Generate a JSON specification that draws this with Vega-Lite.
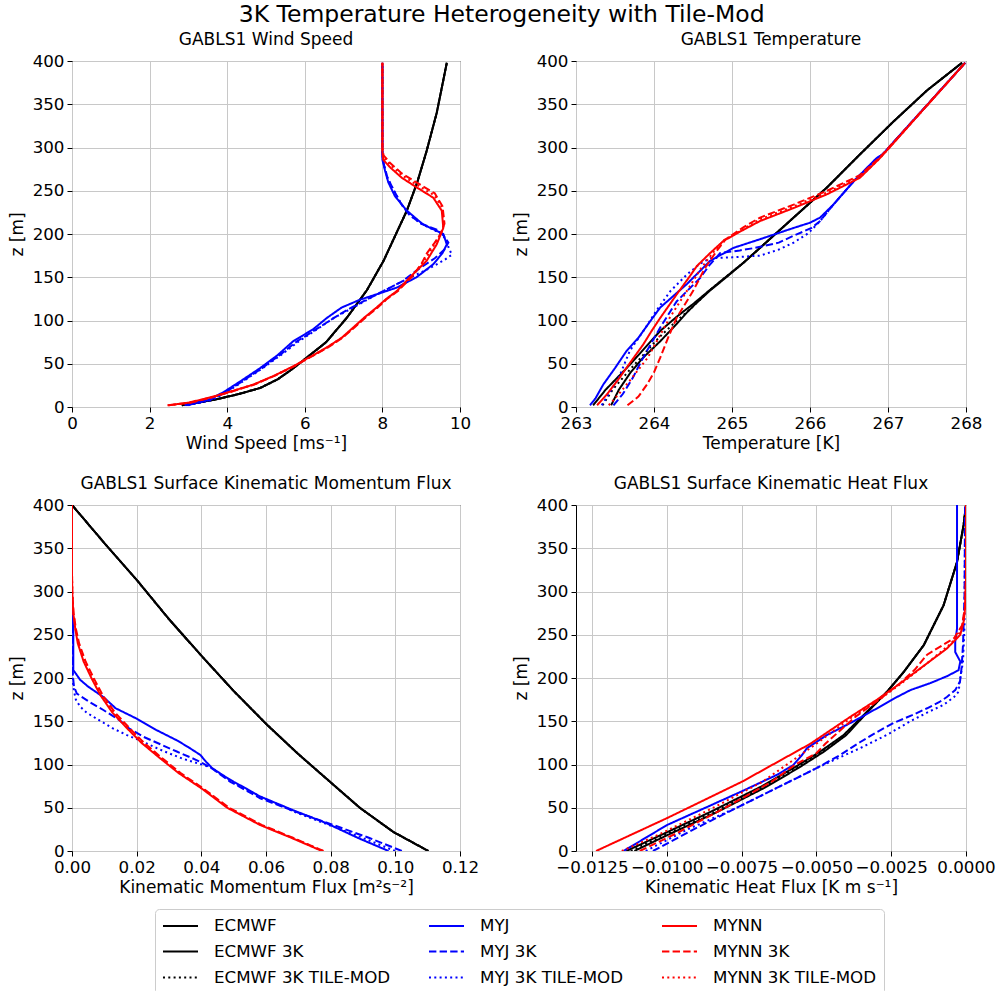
{
"$schema": "https://vega.github.io/schema/vega-lite/v6.json",
"background": "white",
"padding": {"left": 7, "top": 3, "right": 5, "bottom": 0},
"title": {"text": "3K Temperature Heterogeneity with Tile-Mod", "fontSize": 23.5, "fontWeight": "normal", "anchor": "middle", "offset": 4},
"columns": 2,
"bounds": "flush",
"align": "each",
"spacing": {"row": 98, "column": 116},
"datasets": {
"ws": [
{"s":"ECMWF","z":2,"v":2.83},{"s":"ECMWF","z":5,"v":3.25},{"s":"ECMWF","z":9,"v":3.73},{"s":"ECMWF","z":15,"v":4.3},{"s":"ECMWF","z":22,"v":4.85},{"s":"ECMWF","z":32,"v":5.3},{"s":"ECMWF","z":42,"v":5.62},{"s":"ECMWF","z":51,"v":5.88},{"s":"ECMWF","z":75,"v":6.55},{"s":"ECMWF","z":103,"v":7.08},{"s":"ECMWF","z":135,"v":7.6},{"s":"ECMWF","z":169,"v":8.03},{"s":"ECMWF","z":200,"v":8.35},{"s":"ECMWF","z":227,"v":8.63},{"s":"ECMWF","z":260,"v":8.9},{"s":"ECMWF","z":296,"v":9.14},{"s":"ECMWF","z":340,"v":9.4},{"s":"ECMWF","z":398,"v":9.66},
{"s":"ECMWF 3K","z":2,"v":2.83},{"s":"ECMWF 3K","z":5,"v":3.25},{"s":"ECMWF 3K","z":9,"v":3.73},{"s":"ECMWF 3K","z":15,"v":4.3},{"s":"ECMWF 3K","z":22,"v":4.85},{"s":"ECMWF 3K","z":32,"v":5.3},{"s":"ECMWF 3K","z":42,"v":5.62},{"s":"ECMWF 3K","z":51,"v":5.88},{"s":"ECMWF 3K","z":75,"v":6.55},{"s":"ECMWF 3K","z":103,"v":7.08},{"s":"ECMWF 3K","z":135,"v":7.6},{"s":"ECMWF 3K","z":169,"v":8.03},{"s":"ECMWF 3K","z":200,"v":8.35},{"s":"ECMWF 3K","z":227,"v":8.63},{"s":"ECMWF 3K","z":260,"v":8.9},{"s":"ECMWF 3K","z":296,"v":9.14},{"s":"ECMWF 3K","z":340,"v":9.4},{"s":"ECMWF 3K","z":398,"v":9.66},
{"s":"ECMWF 3K TILE-MOD","z":2,"v":2.83},{"s":"ECMWF 3K TILE-MOD","z":5,"v":3.25},{"s":"ECMWF 3K TILE-MOD","z":9,"v":3.73},{"s":"ECMWF 3K TILE-MOD","z":15,"v":4.3},{"s":"ECMWF 3K TILE-MOD","z":22,"v":4.85},{"s":"ECMWF 3K TILE-MOD","z":32,"v":5.3},{"s":"ECMWF 3K TILE-MOD","z":42,"v":5.62},{"s":"ECMWF 3K TILE-MOD","z":51,"v":5.88},{"s":"ECMWF 3K TILE-MOD","z":75,"v":6.55},{"s":"ECMWF 3K TILE-MOD","z":103,"v":7.08},{"s":"ECMWF 3K TILE-MOD","z":135,"v":7.6},{"s":"ECMWF 3K TILE-MOD","z":169,"v":8.03},{"s":"ECMWF 3K TILE-MOD","z":200,"v":8.35},{"s":"ECMWF 3K TILE-MOD","z":227,"v":8.63},{"s":"ECMWF 3K TILE-MOD","z":260,"v":8.9},{"s":"ECMWF 3K TILE-MOD","z":296,"v":9.14},{"s":"ECMWF 3K TILE-MOD","z":340,"v":9.4},{"s":"ECMWF 3K TILE-MOD","z":398,"v":9.66},
{"s":"MYJ","z":2,"v":2.9},{"s":"MYJ","z":8,"v":3.5},{"s":"MYJ","z":17,"v":3.9},{"s":"MYJ","z":30,"v":4.35},{"s":"MYJ","z":45,"v":4.85},{"s":"MYJ","z":60,"v":5.3},{"s":"MYJ","z":76,"v":5.7},{"s":"MYJ","z":90,"v":6.22},{"s":"MYJ","z":103,"v":6.57},{"s":"MYJ","z":115,"v":6.95},{"s":"MYJ","z":124,"v":7.42},{"s":"MYJ","z":131,"v":7.9},{"s":"MYJ","z":138,"v":8.37},{"s":"MYJ","z":150,"v":8.88},{"s":"MYJ","z":165,"v":9.31},{"s":"MYJ","z":178,"v":9.55},{"s":"MYJ","z":188,"v":9.66},{"s":"MYJ","z":200,"v":9.57},{"s":"MYJ","z":211,"v":9.05},{"s":"MYJ","z":227,"v":8.63},{"s":"MYJ","z":244,"v":8.32},{"s":"MYJ","z":260,"v":8.15},{"s":"MYJ","z":273,"v":8.07},{"s":"MYJ","z":286,"v":8.0},{"s":"MYJ","z":398,"v":8.0},
{"s":"MYJ 3K","z":2,"v":2.95},{"s":"MYJ 3K","z":8,"v":3.55},{"s":"MYJ 3K","z":17,"v":3.95},{"s":"MYJ 3K","z":30,"v":4.4},{"s":"MYJ 3K","z":45,"v":4.9},{"s":"MYJ 3K","z":60,"v":5.35},{"s":"MYJ 3K","z":76,"v":5.8},{"s":"MYJ 3K","z":90,"v":6.3},{"s":"MYJ 3K","z":103,"v":6.75},{"s":"MYJ 3K","z":115,"v":7.2},{"s":"MYJ 3K","z":130,"v":7.85},{"s":"MYJ 3K","z":145,"v":8.5},{"s":"MYJ 3K","z":160,"v":8.95},{"s":"MYJ 3K","z":172,"v":9.35},{"s":"MYJ 3K","z":182,"v":9.6},{"s":"MYJ 3K","z":190,"v":9.7},{"s":"MYJ 3K","z":198,"v":9.58},{"s":"MYJ 3K","z":205,"v":9.4},{"s":"MYJ 3K","z":212,"v":9.0},{"s":"MYJ 3K","z":222,"v":8.7},{"s":"MYJ 3K","z":235,"v":8.48},{"s":"MYJ 3K","z":250,"v":8.3},{"s":"MYJ 3K","z":265,"v":8.13},{"s":"MYJ 3K","z":280,"v":8.04},{"s":"MYJ 3K","z":292,"v":8.0},{"s":"MYJ 3K","z":398,"v":8.0},
{"s":"MYJ 3K TILE-MOD","z":2,"v":3.0},{"s":"MYJ 3K TILE-MOD","z":8,"v":3.6},{"s":"MYJ 3K TILE-MOD","z":17,"v":3.98},{"s":"MYJ 3K TILE-MOD","z":30,"v":4.42},{"s":"MYJ 3K TILE-MOD","z":45,"v":4.92},{"s":"MYJ 3K TILE-MOD","z":60,"v":5.38},{"s":"MYJ 3K TILE-MOD","z":76,"v":5.85},{"s":"MYJ 3K TILE-MOD","z":90,"v":6.32},{"s":"MYJ 3K TILE-MOD","z":103,"v":6.75},{"s":"MYJ 3K TILE-MOD","z":115,"v":7.25},{"s":"MYJ 3K TILE-MOD","z":130,"v":7.85},{"s":"MYJ 3K TILE-MOD","z":145,"v":8.5},{"s":"MYJ 3K TILE-MOD","z":160,"v":9.2},{"s":"MYJ 3K TILE-MOD","z":170,"v":9.6},{"s":"MYJ 3K TILE-MOD","z":176,"v":9.79},{"s":"MYJ 3K TILE-MOD","z":185,"v":9.7},{"s":"MYJ 3K TILE-MOD","z":195,"v":9.62},{"s":"MYJ 3K TILE-MOD","z":203,"v":9.4},{"s":"MYJ 3K TILE-MOD","z":212,"v":9.0},{"s":"MYJ 3K TILE-MOD","z":222,"v":8.7},{"s":"MYJ 3K TILE-MOD","z":235,"v":8.48},{"s":"MYJ 3K TILE-MOD","z":250,"v":8.3},{"s":"MYJ 3K TILE-MOD","z":265,"v":8.13},{"s":"MYJ 3K TILE-MOD","z":280,"v":8.04},{"s":"MYJ 3K TILE-MOD","z":292,"v":8.0},{"s":"MYJ 3K TILE-MOD","z":398,"v":8.0},
{"s":"MYNN","z":2,"v":2.46},{"s":"MYNN","z":5,"v":3.0},{"s":"MYNN","z":11,"v":3.56},{"s":"MYNN","z":18,"v":4.1},{"s":"MYNN","z":26,"v":4.68},{"s":"MYNN","z":36,"v":5.2},{"s":"MYNN","z":47,"v":5.7},{"s":"MYNN","z":57,"v":6.1},{"s":"MYNN","z":69,"v":6.57},{"s":"MYNN","z":80,"v":6.95},{"s":"MYNN","z":92,"v":7.25},{"s":"MYNN","z":104,"v":7.55},{"s":"MYNN","z":115,"v":7.85},{"s":"MYNN","z":125,"v":8.1},{"s":"MYNN","z":134,"v":8.37},{"s":"MYNN","z":150,"v":8.71},{"s":"MYNN","z":169,"v":9.14},{"s":"MYNN","z":188,"v":9.4},{"s":"MYNN","z":207,"v":9.57},{"s":"MYNN","z":227,"v":9.53},{"s":"MYNN","z":242,"v":9.31},{"s":"MYNN","z":254,"v":8.88},{"s":"MYNN","z":265,"v":8.5},{"s":"MYNN","z":277,"v":8.2},{"s":"MYNN","z":286,"v":8.02},{"s":"MYNN","z":295,"v":8.0},{"s":"MYNN","z":398,"v":8.0},
{"s":"MYNN 3K","z":2,"v":2.5},{"s":"MYNN 3K","z":5,"v":3.05},{"s":"MYNN 3K","z":11,"v":3.6},{"s":"MYNN 3K","z":18,"v":4.12},{"s":"MYNN 3K","z":26,"v":4.7},{"s":"MYNN 3K","z":36,"v":5.22},{"s":"MYNN 3K","z":47,"v":5.72},{"s":"MYNN 3K","z":57,"v":6.12},{"s":"MYNN 3K","z":69,"v":6.6},{"s":"MYNN 3K","z":80,"v":6.97},{"s":"MYNN 3K","z":92,"v":7.28},{"s":"MYNN 3K","z":104,"v":7.58},{"s":"MYNN 3K","z":115,"v":7.88},{"s":"MYNN 3K","z":125,"v":8.12},{"s":"MYNN 3K","z":134,"v":8.4},{"s":"MYNN 3K","z":150,"v":8.75},{"s":"MYNN 3K","z":165,"v":9.0},{"s":"MYNN 3K","z":178,"v":9.15},{"s":"MYNN 3K","z":190,"v":9.35},{"s":"MYNN 3K","z":200,"v":9.5},{"s":"MYNN 3K","z":212,"v":9.6},{"s":"MYNN 3K","z":232,"v":9.55},{"s":"MYNN 3K","z":247,"v":9.35},{"s":"MYNN 3K","z":259,"v":8.9},{"s":"MYNN 3K","z":270,"v":8.5},{"s":"MYNN 3K","z":282,"v":8.2},{"s":"MYNN 3K","z":291,"v":8.03},{"s":"MYNN 3K","z":300,"v":8.0},{"s":"MYNN 3K","z":398,"v":8.0},
{"s":"MYNN 3K TILE-MOD","z":2,"v":2.48},{"s":"MYNN 3K TILE-MOD","z":5,"v":3.03},{"s":"MYNN 3K TILE-MOD","z":11,"v":3.58},{"s":"MYNN 3K TILE-MOD","z":18,"v":4.11},{"s":"MYNN 3K TILE-MOD","z":26,"v":4.69},{"s":"MYNN 3K TILE-MOD","z":36,"v":5.21},{"s":"MYNN 3K TILE-MOD","z":47,"v":5.71},{"s":"MYNN 3K TILE-MOD","z":57,"v":6.11},{"s":"MYNN 3K TILE-MOD","z":69,"v":6.58},{"s":"MYNN 3K TILE-MOD","z":80,"v":6.96},{"s":"MYNN 3K TILE-MOD","z":92,"v":7.27},{"s":"MYNN 3K TILE-MOD","z":104,"v":7.57},{"s":"MYNN 3K TILE-MOD","z":115,"v":7.87},{"s":"MYNN 3K TILE-MOD","z":125,"v":8.11},{"s":"MYNN 3K TILE-MOD","z":134,"v":8.38},{"s":"MYNN 3K TILE-MOD","z":150,"v":8.73},{"s":"MYNN 3K TILE-MOD","z":167,"v":9.05},{"s":"MYNN 3K TILE-MOD","z":185,"v":9.3},{"s":"MYNN 3K TILE-MOD","z":200,"v":9.5},{"s":"MYNN 3K TILE-MOD","z":210,"v":9.58},{"s":"MYNN 3K TILE-MOD","z":230,"v":9.55},{"s":"MYNN 3K TILE-MOD","z":245,"v":9.33},{"s":"MYNN 3K TILE-MOD","z":257,"v":8.88},{"s":"MYNN 3K TILE-MOD","z":268,"v":8.5},{"s":"MYNN 3K TILE-MOD","z":280,"v":8.2},{"s":"MYNN 3K TILE-MOD","z":289,"v":8.02},{"s":"MYNN 3K TILE-MOD","z":298,"v":8.0},{"s":"MYNN 3K TILE-MOD","z":398,"v":8.0}
],
"t": [
{"s":"ECMWF","z":2,"v":263.22},{"s":"ECMWF","z":20,"v":263.38},{"s":"ECMWF","z":45,"v":263.65},{"s":"ECMWF","z":65,"v":263.85},{"s":"ECMWF","z":88,"v":264.08},{"s":"ECMWF","z":105,"v":264.3},{"s":"ECMWF","z":119,"v":264.5},{"s":"ECMWF","z":134,"v":264.7},{"s":"ECMWF","z":151,"v":264.93},{"s":"ECMWF","z":167,"v":265.15},{"s":"ECMWF","z":184,"v":265.36},{"s":"ECMWF","z":219,"v":265.79},{"s":"ECMWF","z":254,"v":266.22},{"s":"ECMWF","z":292,"v":266.64},{"s":"ECMWF","z":330,"v":267.07},{"s":"ECMWF","z":366,"v":267.5},{"s":"ECMWF","z":398,"v":267.95},
{"s":"ECMWF 3K","z":2,"v":263.45},{"s":"ECMWF 3K","z":20,"v":263.55},{"s":"ECMWF 3K","z":40,"v":263.7},{"s":"ECMWF 3K","z":57,"v":263.86},{"s":"ECMWF 3K","z":76,"v":264.08},{"s":"ECMWF 3K","z":96,"v":264.29},{"s":"ECMWF 3K","z":110,"v":264.43},{"s":"ECMWF 3K","z":119,"v":264.53},{"s":"ECMWF 3K","z":134,"v":264.71},{"s":"ECMWF 3K","z":151,"v":264.94},{"s":"ECMWF 3K","z":167,"v":265.15},{"s":"ECMWF 3K","z":184,"v":265.36},{"s":"ECMWF 3K","z":219,"v":265.79},{"s":"ECMWF 3K","z":254,"v":266.22},{"s":"ECMWF 3K","z":292,"v":266.64},{"s":"ECMWF 3K","z":330,"v":267.07},{"s":"ECMWF 3K","z":366,"v":267.5},{"s":"ECMWF 3K","z":398,"v":267.95},
{"s":"ECMWF 3K TILE-MOD","z":2,"v":263.34},{"s":"ECMWF 3K TILE-MOD","z":20,"v":263.47},{"s":"ECMWF 3K TILE-MOD","z":42,"v":263.68},{"s":"ECMWF 3K TILE-MOD","z":60,"v":263.86},{"s":"ECMWF 3K TILE-MOD","z":80,"v":264.06},{"s":"ECMWF 3K TILE-MOD","z":98,"v":264.27},{"s":"ECMWF 3K TILE-MOD","z":112,"v":264.45},{"s":"ECMWF 3K TILE-MOD","z":125,"v":264.6},{"s":"ECMWF 3K TILE-MOD","z":134,"v":264.7},{"s":"ECMWF 3K TILE-MOD","z":151,"v":264.93},{"s":"ECMWF 3K TILE-MOD","z":167,"v":265.15},{"s":"ECMWF 3K TILE-MOD","z":184,"v":265.36},{"s":"ECMWF 3K TILE-MOD","z":219,"v":265.79},{"s":"ECMWF 3K TILE-MOD","z":254,"v":266.22},{"s":"ECMWF 3K TILE-MOD","z":292,"v":266.64},{"s":"ECMWF 3K TILE-MOD","z":330,"v":267.07},{"s":"ECMWF 3K TILE-MOD","z":366,"v":267.5},{"s":"ECMWF 3K TILE-MOD","z":398,"v":267.95},
{"s":"MYJ","z":2,"v":263.18},{"s":"MYJ","z":10,"v":263.25},{"s":"MYJ","z":26,"v":263.35},{"s":"MYJ","z":45,"v":263.5},{"s":"MYJ","z":65,"v":263.65},{"s":"MYJ","z":80,"v":263.8},{"s":"MYJ","z":99,"v":263.95},{"s":"MYJ","z":115,"v":264.08},{"s":"MYJ","z":142,"v":264.42},{"s":"MYJ","z":169,"v":264.72},{"s":"MYJ","z":184,"v":265.02},{"s":"MYJ","z":194,"v":265.36},{"s":"MYJ","z":207,"v":265.79},{"s":"MYJ","z":213,"v":266.0},{"s":"MYJ","z":219,"v":266.13},{"s":"MYJ","z":234,"v":266.3},{"s":"MYJ","z":261,"v":266.56},{"s":"MYJ","z":288,"v":266.86},{"s":"MYJ","z":292,"v":266.93},{"s":"MYJ","z":398,"v":267.99},
{"s":"MYJ 3K","z":2,"v":263.48},{"s":"MYJ 3K","z":15,"v":263.6},{"s":"MYJ 3K","z":34,"v":263.73},{"s":"MYJ 3K","z":50,"v":263.82},{"s":"MYJ 3K","z":65,"v":263.91},{"s":"MYJ 3K","z":92,"v":264.08},{"s":"MYJ 3K","z":122,"v":264.29},{"s":"MYJ 3K","z":149,"v":264.59},{"s":"MYJ 3K","z":165,"v":264.72},{"s":"MYJ 3K","z":178,"v":264.85},{"s":"MYJ 3K","z":181,"v":265.1},{"s":"MYJ 3K","z":184,"v":265.3},{"s":"MYJ 3K","z":190,"v":265.6},{"s":"MYJ 3K","z":198,"v":265.79},{"s":"MYJ 3K","z":207,"v":266.02},{"s":"MYJ 3K","z":215,"v":266.13},{"s":"MYJ 3K","z":234,"v":266.3},{"s":"MYJ 3K","z":261,"v":266.56},{"s":"MYJ 3K","z":288,"v":266.86},{"s":"MYJ 3K","z":292,"v":266.93},{"s":"MYJ 3K","z":398,"v":267.99},
{"s":"MYJ 3K TILE-MOD","z":2,"v":263.33},{"s":"MYJ 3K TILE-MOD","z":15,"v":263.42},{"s":"MYJ 3K TILE-MOD","z":34,"v":263.55},{"s":"MYJ 3K TILE-MOD","z":65,"v":263.69},{"s":"MYJ 3K TILE-MOD","z":90,"v":263.88},{"s":"MYJ 3K TILE-MOD","z":110,"v":264.02},{"s":"MYJ 3K TILE-MOD","z":134,"v":264.21},{"s":"MYJ 3K TILE-MOD","z":153,"v":264.42},{"s":"MYJ 3K TILE-MOD","z":165,"v":264.58},{"s":"MYJ 3K TILE-MOD","z":172,"v":264.72},{"s":"MYJ 3K TILE-MOD","z":173,"v":265.0},{"s":"MYJ 3K TILE-MOD","z":175,"v":265.36},{"s":"MYJ 3K TILE-MOD","z":182,"v":265.6},{"s":"MYJ 3K TILE-MOD","z":190,"v":265.79},{"s":"MYJ 3K TILE-MOD","z":201,"v":265.98},{"s":"MYJ 3K TILE-MOD","z":215,"v":266.13},{"s":"MYJ 3K TILE-MOD","z":234,"v":266.3},{"s":"MYJ 3K TILE-MOD","z":261,"v":266.56},{"s":"MYJ 3K TILE-MOD","z":288,"v":266.86},{"s":"MYJ 3K TILE-MOD","z":292,"v":266.93},{"s":"MYJ 3K TILE-MOD","z":398,"v":267.99},
{"s":"MYNN","z":2,"v":263.27},{"s":"MYNN","z":15,"v":263.4},{"s":"MYNN","z":34,"v":263.56},{"s":"MYNN","z":52,"v":263.7},{"s":"MYNN","z":72,"v":263.86},{"s":"MYNN","z":88,"v":263.97},{"s":"MYNN","z":103,"v":264.08},{"s":"MYNN","z":130,"v":264.29},{"s":"MYNN","z":150,"v":264.45},{"s":"MYNN","z":163,"v":264.55},{"s":"MYNN","z":178,"v":264.72},{"s":"MYNN","z":192,"v":264.89},{"s":"MYNN","z":205,"v":265.15},{"s":"MYNN","z":215,"v":265.36},{"s":"MYNN","z":230,"v":265.79},{"s":"MYNN","z":246,"v":266.22},{"s":"MYNN","z":265,"v":266.64},{"s":"MYNN","z":288,"v":266.9},{"s":"MYNN","z":398,"v":267.99},
{"s":"MYNN 3K","z":2,"v":263.66},{"s":"MYNN 3K","z":12,"v":263.8},{"s":"MYNN 3K","z":26,"v":263.91},{"s":"MYNN 3K","z":40,"v":264.0},{"s":"MYNN 3K","z":57,"v":264.08},{"s":"MYNN 3K","z":80,"v":264.18},{"s":"MYNN 3K","z":103,"v":264.29},{"s":"MYNN 3K","z":134,"v":264.5},{"s":"MYNN 3K","z":160,"v":264.65},{"s":"MYNN 3K","z":180,"v":264.8},{"s":"MYNN 3K","z":194,"v":264.92},{"s":"MYNN 3K","z":208,"v":265.15},{"s":"MYNN 3K","z":219,"v":265.36},{"s":"MYNN 3K","z":234,"v":265.79},{"s":"MYNN 3K","z":250,"v":266.22},{"s":"MYNN 3K","z":268,"v":266.64},{"s":"MYNN 3K","z":289,"v":266.9},{"s":"MYNN 3K","z":398,"v":267.99},
{"s":"MYNN 3K TILE-MOD","z":2,"v":263.42},{"s":"MYNN 3K TILE-MOD","z":15,"v":263.55},{"s":"MYNN 3K TILE-MOD","z":34,"v":263.72},{"s":"MYNN 3K TILE-MOD","z":57,"v":263.92},{"s":"MYNN 3K TILE-MOD","z":80,"v":264.06},{"s":"MYNN 3K TILE-MOD","z":103,"v":264.2},{"s":"MYNN 3K TILE-MOD","z":134,"v":264.42},{"s":"MYNN 3K TILE-MOD","z":160,"v":264.6},{"s":"MYNN 3K TILE-MOD","z":180,"v":264.77},{"s":"MYNN 3K TILE-MOD","z":193,"v":264.9},{"s":"MYNN 3K TILE-MOD","z":206,"v":265.15},{"s":"MYNN 3K TILE-MOD","z":217,"v":265.36},{"s":"MYNN 3K TILE-MOD","z":232,"v":265.79},{"s":"MYNN 3K TILE-MOD","z":248,"v":266.22},{"s":"MYNN 3K TILE-MOD","z":266,"v":266.64},{"s":"MYNN 3K TILE-MOD","z":288,"v":266.9},{"s":"MYNN 3K TILE-MOD","z":398,"v":267.99}
],
"m": [
{"s":"ECMWF","z":0,"v":0.1102},{"s":"ECMWF","z":22,"v":0.0994},{"s":"ECMWF","z":50,"v":0.089},{"s":"ECMWF","z":80,"v":0.0798},{"s":"ECMWF","z":112,"v":0.07},{"s":"ECMWF","z":146,"v":0.0603},{"s":"ECMWF","z":185,"v":0.05},{"s":"ECMWF","z":225,"v":0.0402},{"s":"ECMWF","z":268,"v":0.03},{"s":"ECMWF","z":313,"v":0.0201},{"s":"ECMWF","z":356,"v":0.01},{"s":"ECMWF","z":400,"v":0.0},
{"s":"ECMWF 3K","z":0,"v":0.1102},{"s":"ECMWF 3K","z":22,"v":0.0994},{"s":"ECMWF 3K","z":50,"v":0.089},{"s":"ECMWF 3K","z":80,"v":0.0798},{"s":"ECMWF 3K","z":112,"v":0.07},{"s":"ECMWF 3K","z":146,"v":0.0603},{"s":"ECMWF 3K","z":185,"v":0.05},{"s":"ECMWF 3K","z":225,"v":0.0402},{"s":"ECMWF 3K","z":268,"v":0.03},{"s":"ECMWF 3K","z":313,"v":0.0201},{"s":"ECMWF 3K","z":356,"v":0.01},{"s":"ECMWF 3K","z":400,"v":0.0},
{"s":"ECMWF 3K TILE-MOD","z":0,"v":0.1102},{"s":"ECMWF 3K TILE-MOD","z":22,"v":0.0994},{"s":"ECMWF 3K TILE-MOD","z":50,"v":0.089},{"s":"ECMWF 3K TILE-MOD","z":80,"v":0.0798},{"s":"ECMWF 3K TILE-MOD","z":112,"v":0.07},{"s":"ECMWF 3K TILE-MOD","z":146,"v":0.0603},{"s":"ECMWF 3K TILE-MOD","z":185,"v":0.05},{"s":"ECMWF 3K TILE-MOD","z":225,"v":0.0402},{"s":"ECMWF 3K TILE-MOD","z":268,"v":0.03},{"s":"ECMWF 3K TILE-MOD","z":313,"v":0.0201},{"s":"ECMWF 3K TILE-MOD","z":356,"v":0.01},{"s":"ECMWF 3K TILE-MOD","z":400,"v":0.0},
{"s":"MYJ","z":0,"v":0.0979},{"s":"MYJ","z":15,"v":0.0885},{"s":"MYJ","z":32,"v":0.0788},{"s":"MYJ","z":47,"v":0.0685},{"s":"MYJ","z":63,"v":0.0582},{"s":"MYJ","z":72,"v":0.054},{"s":"MYJ","z":80,"v":0.05},{"s":"MYJ","z":88,"v":0.0465},{"s":"MYJ","z":96,"v":0.0433},{"s":"MYJ","z":103,"v":0.0415},{"s":"MYJ","z":111,"v":0.0397},{"s":"MYJ","z":120,"v":0.036},{"s":"MYJ","z":128,"v":0.0324},{"s":"MYJ","z":140,"v":0.026},{"s":"MYJ","z":153,"v":0.02},{"s":"MYJ","z":165,"v":0.0135},{"s":"MYJ","z":178,"v":0.0097},{"s":"MYJ","z":190,"v":0.005},{"s":"MYJ","z":198,"v":0.0025},{"s":"MYJ","z":205,"v":0.0012},{"s":"MYJ","z":209,"v":0.0004},{"s":"MYJ","z":255,"v":0.0004},{"s":"MYJ","z":270,"v":0.0002},{"s":"MYJ","z":300,"v":0.0},{"s":"MYJ","z":400,"v":0.0},
{"s":"MYJ 3K","z":0,"v":0.102},{"s":"MYJ 3K","z":15,"v":0.092},{"s":"MYJ 3K","z":30,"v":0.0809},{"s":"MYJ 3K","z":45,"v":0.0695},{"s":"MYJ 3K","z":61,"v":0.0582},{"s":"MYJ 3K","z":80,"v":0.049},{"s":"MYJ 3K","z":97,"v":0.0427},{"s":"MYJ 3K","z":106,"v":0.038},{"s":"MYJ 3K","z":115,"v":0.0324},{"s":"MYJ 3K","z":132,"v":0.0221},{"s":"MYJ 3K","z":142,"v":0.0175},{"s":"MYJ 3K","z":151,"v":0.0148},{"s":"MYJ 3K","z":163,"v":0.0097},{"s":"MYJ 3K","z":172,"v":0.0055},{"s":"MYJ 3K","z":182,"v":0.0015},{"s":"MYJ 3K","z":190,"v":0.0006},{"s":"MYJ 3K","z":198,"v":0.0004},{"s":"MYJ 3K","z":205,"v":0.0002},{"s":"MYJ 3K","z":240,"v":0.0001},{"s":"MYJ 3K","z":280,"v":0.0},{"s":"MYJ 3K","z":400,"v":0.0},
{"s":"MYJ 3K TILE-MOD","z":0,"v":0.0999},{"s":"MYJ 3K TILE-MOD","z":15,"v":0.09},{"s":"MYJ 3K TILE-MOD","z":30,"v":0.0795},{"s":"MYJ 3K TILE-MOD","z":45,"v":0.069},{"s":"MYJ 3K TILE-MOD","z":63,"v":0.0582},{"s":"MYJ 3K TILE-MOD","z":80,"v":0.0495},{"s":"MYJ 3K TILE-MOD","z":97,"v":0.0427},{"s":"MYJ 3K TILE-MOD","z":107,"v":0.034},{"s":"MYJ 3K TILE-MOD","z":116,"v":0.028},{"s":"MYJ 3K TILE-MOD","z":126,"v":0.0221},{"s":"MYJ 3K TILE-MOD","z":134,"v":0.017},{"s":"MYJ 3K TILE-MOD","z":142,"v":0.0125},{"s":"MYJ 3K TILE-MOD","z":151,"v":0.0085},{"s":"MYJ 3K TILE-MOD","z":160,"v":0.0045},{"s":"MYJ 3K TILE-MOD","z":167,"v":0.0025},{"s":"MYJ 3K TILE-MOD","z":175,"v":0.0012},{"s":"MYJ 3K TILE-MOD","z":185,"v":0.0006},{"s":"MYJ 3K TILE-MOD","z":195,"v":0.0003},{"s":"MYJ 3K TILE-MOD","z":230,"v":0.0001},{"s":"MYJ 3K TILE-MOD","z":280,"v":0.0},{"s":"MYJ 3K TILE-MOD","z":400,"v":0.0},
{"s":"MYNN","z":0,"v":0.0773},{"s":"MYNN","z":15,"v":0.068},{"s":"MYNN","z":30,"v":0.0582},{"s":"MYNN","z":50,"v":0.048},{"s":"MYNN","z":72,"v":0.0402},{"s":"MYNN","z":90,"v":0.033},{"s":"MYNN","z":107,"v":0.0273},{"s":"MYNN","z":125,"v":0.0215},{"s":"MYNN","z":142,"v":0.017},{"s":"MYNN","z":160,"v":0.0125},{"s":"MYNN","z":180,"v":0.0088},{"s":"MYNN","z":200,"v":0.006},{"s":"MYNN","z":219,"v":0.0036},{"s":"MYNN","z":240,"v":0.0018},{"s":"MYNN","z":257,"v":0.001},{"s":"MYNN","z":275,"v":0.0004},{"s":"MYNN","z":296,"v":0.0001},{"s":"MYNN","z":320,"v":0.0},{"s":"MYNN","z":400,"v":0.0},
{"s":"MYNN 3K","z":0,"v":0.0778},{"s":"MYNN 3K","z":15,"v":0.0685},{"s":"MYNN 3K","z":30,"v":0.0588},{"s":"MYNN 3K","z":50,"v":0.0486},{"s":"MYNN 3K","z":72,"v":0.0407},{"s":"MYNN 3K","z":90,"v":0.0336},{"s":"MYNN 3K","z":107,"v":0.028},{"s":"MYNN 3K","z":125,"v":0.0223},{"s":"MYNN 3K","z":142,"v":0.0178},{"s":"MYNN 3K","z":160,"v":0.0133},{"s":"MYNN 3K","z":180,"v":0.0095},{"s":"MYNN 3K","z":200,"v":0.0067},{"s":"MYNN 3K","z":219,"v":0.0042},{"s":"MYNN 3K","z":240,"v":0.0022},{"s":"MYNN 3K","z":257,"v":0.0012},{"s":"MYNN 3K","z":275,"v":0.0005},{"s":"MYNN 3K","z":296,"v":0.0001},{"s":"MYNN 3K","z":320,"v":0.0},{"s":"MYNN 3K","z":400,"v":0.0},
{"s":"MYNN 3K TILE-MOD","z":0,"v":0.0776},{"s":"MYNN 3K TILE-MOD","z":15,"v":0.0683},{"s":"MYNN 3K TILE-MOD","z":30,"v":0.0585},{"s":"MYNN 3K TILE-MOD","z":50,"v":0.0483},{"s":"MYNN 3K TILE-MOD","z":72,"v":0.0405},{"s":"MYNN 3K TILE-MOD","z":90,"v":0.0333},{"s":"MYNN 3K TILE-MOD","z":107,"v":0.0277},{"s":"MYNN 3K TILE-MOD","z":125,"v":0.0219},{"s":"MYNN 3K TILE-MOD","z":142,"v":0.0174},{"s":"MYNN 3K TILE-MOD","z":160,"v":0.0129},{"s":"MYNN 3K TILE-MOD","z":180,"v":0.0092},{"s":"MYNN 3K TILE-MOD","z":200,"v":0.0064},{"s":"MYNN 3K TILE-MOD","z":219,"v":0.0039},{"s":"MYNN 3K TILE-MOD","z":240,"v":0.002},{"s":"MYNN 3K TILE-MOD","z":257,"v":0.0011},{"s":"MYNN 3K TILE-MOD","z":275,"v":0.0004},{"s":"MYNN 3K TILE-MOD","z":296,"v":0.0001},{"s":"MYNN 3K TILE-MOD","z":320,"v":0.0},{"s":"MYNN 3K TILE-MOD","z":400,"v":0.0}
],
"h": [
{"s":"ECMWF","z":0,"v":-0.01135},{"s":"ECMWF","z":18,"v":-0.01022},{"s":"ECMWF","z":45,"v":-0.00855},{"s":"ECMWF","z":74,"v":-0.00687},{"s":"ECMWF","z":96,"v":-0.00576},{"s":"ECMWF","z":115,"v":-0.00487},{"s":"ECMWF","z":134,"v":-0.00409},{"s":"ECMWF","z":161,"v":-0.00331},{"s":"ECMWF","z":184,"v":-0.00264},{"s":"ECMWF","z":207,"v":-0.00208},{"s":"ECMWF","z":238,"v":-0.00141},{"s":"ECMWF","z":284,"v":-0.00075},{"s":"ECMWF","z":334,"v":-0.0003},{"s":"ECMWF","z":377,"v":-0.00008},{"s":"ECMWF","z":400,"v":0.0},
{"s":"ECMWF 3K","z":0,"v":-0.01108},{"s":"ECMWF 3K","z":18,"v":-0.01},{"s":"ECMWF 3K","z":45,"v":-0.00832},{"s":"ECMWF 3K","z":74,"v":-0.00668},{"s":"ECMWF 3K","z":96,"v":-0.0056},{"s":"ECMWF 3K","z":115,"v":-0.00474},{"s":"ECMWF 3K","z":134,"v":-0.004},{"s":"ECMWF 3K","z":161,"v":-0.00328},{"s":"ECMWF 3K","z":184,"v":-0.00264},{"s":"ECMWF 3K","z":207,"v":-0.00208},{"s":"ECMWF 3K","z":238,"v":-0.00141},{"s":"ECMWF 3K","z":284,"v":-0.00075},{"s":"ECMWF 3K","z":334,"v":-0.0003},{"s":"ECMWF 3K","z":377,"v":-0.00008},{"s":"ECMWF 3K","z":400,"v":0.0},
{"s":"ECMWF 3K TILE-MOD","z":0,"v":-0.0112},{"s":"ECMWF 3K TILE-MOD","z":18,"v":-0.0101},{"s":"ECMWF 3K TILE-MOD","z":45,"v":-0.00843},{"s":"ECMWF 3K TILE-MOD","z":74,"v":-0.00677},{"s":"ECMWF 3K TILE-MOD","z":96,"v":-0.00568},{"s":"ECMWF 3K TILE-MOD","z":115,"v":-0.0048},{"s":"ECMWF 3K TILE-MOD","z":134,"v":-0.00405},{"s":"ECMWF 3K TILE-MOD","z":161,"v":-0.0033},{"s":"ECMWF 3K TILE-MOD","z":184,"v":-0.00264},{"s":"ECMWF 3K TILE-MOD","z":207,"v":-0.00208},{"s":"ECMWF 3K TILE-MOD","z":238,"v":-0.00141},{"s":"ECMWF 3K TILE-MOD","z":284,"v":-0.00075},{"s":"ECMWF 3K TILE-MOD","z":334,"v":-0.0003},{"s":"ECMWF 3K TILE-MOD","z":377,"v":-0.00008},{"s":"ECMWF 3K TILE-MOD","z":400,"v":0.0},
{"s":"MYJ","z":0,"v":-0.01144},{"s":"MYJ","z":30,"v":-0.00999},{"s":"MYJ","z":69,"v":-0.00749},{"s":"MYJ","z":88,"v":-0.00632},{"s":"MYJ","z":99,"v":-0.00578},{"s":"MYJ","z":110,"v":-0.0055},{"s":"MYJ","z":119,"v":-0.00531},{"s":"MYJ","z":134,"v":-0.00465},{"s":"MYJ","z":150,"v":-0.00375},{"s":"MYJ","z":165,"v":-0.00297},{"s":"MYJ","z":176,"v":-0.00242},{"s":"MYJ","z":186,"v":-0.00186},{"s":"MYJ","z":194,"v":-0.0012},{"s":"MYJ","z":202,"v":-0.00064},{"s":"MYJ","z":209,"v":-0.00025},{"s":"MYJ","z":219,"v":-0.00019},{"s":"MYJ","z":230,"v":-0.00036},{"s":"MYJ","z":242,"v":-0.00036},{"s":"MYJ","z":257,"v":-0.0003},{"s":"MYJ","z":400,"v":-0.0003},
{"s":"MYJ 3K","z":0,"v":-0.01046},{"s":"MYJ 3K","z":25,"v":-0.0091},{"s":"MYJ 3K","z":51,"v":-0.0076},{"s":"MYJ 3K","z":75,"v":-0.0062},{"s":"MYJ 3K","z":96,"v":-0.00498},{"s":"MYJ 3K","z":111,"v":-0.0042},{"s":"MYJ 3K","z":126,"v":-0.00353},{"s":"MYJ 3K","z":137,"v":-0.003},{"s":"MYJ 3K","z":148,"v":-0.00242},{"s":"MYJ 3K","z":157,"v":-0.0018},{"s":"MYJ 3K","z":165,"v":-0.0013},{"s":"MYJ 3K","z":172,"v":-0.0009},{"s":"MYJ 3K","z":178,"v":-0.00064},{"s":"MYJ 3K","z":186,"v":-0.00036},{"s":"MYJ 3K","z":196,"v":-0.0002},{"s":"MYJ 3K","z":211,"v":-0.00015},{"s":"MYJ 3K","z":238,"v":-0.0001},{"s":"MYJ 3K","z":296,"v":-0.00005},{"s":"MYJ 3K","z":400,"v":-0.00003},
{"s":"MYJ 3K TILE-MOD","z":0,"v":-0.0107},{"s":"MYJ 3K TILE-MOD","z":25,"v":-0.0093},{"s":"MYJ 3K TILE-MOD","z":51,"v":-0.0076},{"s":"MYJ 3K TILE-MOD","z":75,"v":-0.0062},{"s":"MYJ 3K TILE-MOD","z":96,"v":-0.00498},{"s":"MYJ 3K TILE-MOD","z":103,"v":-0.00455},{"s":"MYJ 3K TILE-MOD","z":119,"v":-0.00353},{"s":"MYJ 3K TILE-MOD","z":135,"v":-0.0026},{"s":"MYJ 3K TILE-MOD","z":150,"v":-0.00186},{"s":"MYJ 3K TILE-MOD","z":160,"v":-0.0013},{"s":"MYJ 3K TILE-MOD","z":169,"v":-0.00075},{"s":"MYJ 3K TILE-MOD","z":178,"v":-0.0004},{"s":"MYJ 3K TILE-MOD","z":184,"v":-0.00025},{"s":"MYJ 3K TILE-MOD","z":200,"v":-0.00019},{"s":"MYJ 3K TILE-MOD","z":219,"v":-0.0001},{"s":"MYJ 3K TILE-MOD","z":260,"v":-0.00005},{"s":"MYJ 3K TILE-MOD","z":400,"v":-0.00003},
{"s":"MYNN","z":0,"v":-0.01236},{"s":"MYNN","z":38,"v":-0.00999},{"s":"MYNN","z":80,"v":-0.00749},{"s":"MYNN","z":124,"v":-0.0052},{"s":"MYNN","z":155,"v":-0.00387},{"s":"MYNN","z":175,"v":-0.00297},{"s":"MYNN","z":194,"v":-0.00219},{"s":"MYNN","z":217,"v":-0.0013},{"s":"MYNN","z":234,"v":-0.00064},{"s":"MYNN","z":250,"v":-0.00019},{"s":"MYNN","z":265,"v":-0.00008},{"s":"MYNN","z":277,"v":-0.00004},{"s":"MYNN","z":315,"v":0.0},{"s":"MYNN","z":400,"v":0.0},
{"s":"MYNN 3K","z":0,"v":-0.0109},{"s":"MYNN 3K","z":20,"v":-0.0097},{"s":"MYNN 3K","z":49,"v":-0.0081},{"s":"MYNN 3K","z":80,"v":-0.0065},{"s":"MYNN 3K","z":100,"v":-0.0057},{"s":"MYNN 3K","z":113,"v":-0.005},{"s":"MYNN 3K","z":124,"v":-0.0047},{"s":"MYNN 3K","z":155,"v":-0.0037},{"s":"MYNN 3K","z":175,"v":-0.0029},{"s":"MYNN 3K","z":194,"v":-0.0022},{"s":"MYNN 3K","z":210,"v":-0.0017},{"s":"MYNN 3K","z":227,"v":-0.0013},{"s":"MYNN 3K","z":246,"v":-0.0004},{"s":"MYNN 3K","z":261,"v":-0.00013},{"s":"MYNN 3K","z":285,"v":-0.00002},{"s":"MYNN 3K","z":320,"v":0.0},{"s":"MYNN 3K","z":400,"v":0.0},
{"s":"MYNN 3K TILE-MOD","z":0,"v":-0.0115},{"s":"MYNN 3K TILE-MOD","z":20,"v":-0.0102},{"s":"MYNN 3K TILE-MOD","z":49,"v":-0.0085},{"s":"MYNN 3K TILE-MOD","z":80,"v":-0.0068},{"s":"MYNN 3K TILE-MOD","z":124,"v":-0.005},{"s":"MYNN 3K TILE-MOD","z":155,"v":-0.0038},{"s":"MYNN 3K TILE-MOD","z":175,"v":-0.0029},{"s":"MYNN 3K TILE-MOD","z":194,"v":-0.00215},{"s":"MYNN 3K TILE-MOD","z":217,"v":-0.0013},{"s":"MYNN 3K TILE-MOD","z":240,"v":-0.0005},{"s":"MYNN 3K TILE-MOD","z":255,"v":-0.00015},{"s":"MYNN 3K TILE-MOD","z":280,"v":-0.00003},{"s":"MYNN 3K TILE-MOD","z":310,"v":0.0},{"s":"MYNN 3K TILE-MOD","z":400,"v":0.0}
]
},
"concat": [
{"title": "GABLS1 Wind Speed", "width": 388, "height": 346, "data": {"name": "ws"},
 "mark": {"type": "line", "strokeWidth": 2, "strokeCap": "butt", "clip": true},
 "encoding": {
  "x": {"field": "v", "type": "quantitative", "scale": {"domain": [0, 10], "nice": false, "zero": false}, "axis": {"title": "Wind Speed [ms⁻¹]", "values": [0,2,4,6,8,10], "format": "d"}},
  "y": {"field": "z", "type": "quantitative", "scale": {"domain": [0, 400], "nice": false}, "axis": {"title": "z [m]", "values": [0,50,100,150,200,250,300,350,400], "format": "d"}},
  "color": {"field": "s", "type": "nominal", "title": null, "scale": {"domain": ["ECMWF","ECMWF 3K","ECMWF 3K TILE-MOD","MYJ","MYJ 3K","MYJ 3K TILE-MOD","MYNN","MYNN 3K","MYNN 3K TILE-MOD"], "range": ["#000000","#000000","#000000","#0000ff","#0000ff","#0000ff","#ff0000","#ff0000","#ff0000"]}},
  "strokeDash": {"field": "s", "type": "nominal", "title": null, "scale": {"domain": ["ECMWF","ECMWF 3K","ECMWF 3K TILE-MOD","MYJ","MYJ 3K","MYJ 3K TILE-MOD","MYNN","MYNN 3K","MYNN 3K TILE-MOD"], "range": [[1,0],[1,0],[2,3.3],[1,0],[7.4,3.2],[2,3.3],[1,0],[7.4,3.2],[2,3.3]]}},
  "order": {"field": "z", "type": "quantitative"}
 }},
{"title": "GABLS1 Temperature", "width": 390, "height": 346, "data": {"name": "t"},
 "mark": {"type": "line", "strokeWidth": 2, "strokeCap": "butt", "clip": true},
 "encoding": {
  "x": {"field": "v", "type": "quantitative", "scale": {"domain": [263, 268], "nice": false, "zero": false}, "axis": {"title": "Temperature [K]", "values": [263,264,265,266,267,268], "format": "d"}},
  "y": {"field": "z", "type": "quantitative", "scale": {"domain": [0, 400], "nice": false}, "axis": {"title": "z [m]", "values": [0,50,100,150,200,250,300,350,400], "format": "d"}},
  "color": {"field": "s", "type": "nominal", "title": null, "scale": {"domain": ["ECMWF","ECMWF 3K","ECMWF 3K TILE-MOD","MYJ","MYJ 3K","MYJ 3K TILE-MOD","MYNN","MYNN 3K","MYNN 3K TILE-MOD"], "range": ["#000000","#000000","#000000","#0000ff","#0000ff","#0000ff","#ff0000","#ff0000","#ff0000"]}},
  "strokeDash": {"field": "s", "type": "nominal", "title": null, "scale": {"domain": ["ECMWF","ECMWF 3K","ECMWF 3K TILE-MOD","MYJ","MYJ 3K","MYJ 3K TILE-MOD","MYNN","MYNN 3K","MYNN 3K TILE-MOD"], "range": [[1,0],[1,0],[2,3.3],[1,0],[7.4,3.2],[2,3.3],[1,0],[7.4,3.2],[2,3.3]]}},
  "order": {"field": "z", "type": "quantitative"}
 }},
{"title": "GABLS1 Surface Kinematic Momentum Flux", "width": 388, "height": 346, "data": {"name": "m"},
 "mark": {"type": "line", "strokeWidth": 2, "strokeCap": "butt", "clip": true},
 "encoding": {
  "x": {"field": "v", "type": "quantitative", "scale": {"domain": [0, 0.12], "nice": false, "zero": false}, "axis": {"title": "Kinematic Momentum Flux [m²s⁻²]", "values": [0,0.02,0.04,0.06,0.08,0.1,0.12], "format": ".2f"}},
  "y": {"field": "z", "type": "quantitative", "scale": {"domain": [0, 400], "nice": false}, "axis": {"title": "z [m]", "values": [0,50,100,150,200,250,300,350,400], "format": "d"}},
  "color": {"field": "s", "type": "nominal", "title": null, "scale": {"domain": ["ECMWF","ECMWF 3K","ECMWF 3K TILE-MOD","MYJ","MYJ 3K","MYJ 3K TILE-MOD","MYNN","MYNN 3K","MYNN 3K TILE-MOD"], "range": ["#000000","#000000","#000000","#0000ff","#0000ff","#0000ff","#ff0000","#ff0000","#ff0000"]}},
  "strokeDash": {"field": "s", "type": "nominal", "title": null, "scale": {"domain": ["ECMWF","ECMWF 3K","ECMWF 3K TILE-MOD","MYJ","MYJ 3K","MYJ 3K TILE-MOD","MYNN","MYNN 3K","MYNN 3K TILE-MOD"], "range": [[1,0],[1,0],[2,3.3],[1,0],[7.4,3.2],[2,3.3],[1,0],[7.4,3.2],[2,3.3]]}},
  "order": {"field": "z", "type": "quantitative"}
 }},
{"title": "GABLS1 Surface Kinematic Heat Flux", "width": 390, "height": 346, "data": {"name": "h"},
 "mark": {"type": "line", "strokeWidth": 2, "strokeCap": "butt", "clip": true},
 "encoding": {
  "x": {"field": "v", "type": "quantitative", "scale": {"domain": [-0.01303, 0], "nice": false, "zero": false}, "axis": {"title": "Kinematic Heat Flux [K m s⁻¹]", "values": [-0.0125,-0.01,-0.0075,-0.005,-0.0025,0], "format": ".4f"}},
  "y": {"field": "z", "type": "quantitative", "scale": {"domain": [0, 400], "nice": false}, "axis": {"title": "z [m]", "values": [0,50,100,150,200,250,300,350,400], "format": "d"}},
  "color": {"field": "s", "type": "nominal", "title": null, "scale": {"domain": ["ECMWF","ECMWF 3K","ECMWF 3K TILE-MOD","MYJ","MYJ 3K","MYJ 3K TILE-MOD","MYNN","MYNN 3K","MYNN 3K TILE-MOD"], "range": ["#000000","#000000","#000000","#0000ff","#0000ff","#0000ff","#ff0000","#ff0000","#ff0000"]}},
  "strokeDash": {"field": "s", "type": "nominal", "title": null, "scale": {"domain": ["ECMWF","ECMWF 3K","ECMWF 3K TILE-MOD","MYJ","MYJ 3K","MYJ 3K TILE-MOD","MYNN","MYNN 3K","MYNN 3K TILE-MOD"], "range": [[1,0],[1,0],[2,3.3],[1,0],[7.4,3.2],[2,3.3],[1,0],[7.4,3.2],[2,3.3]]}},
  "order": {"field": "z", "type": "quantitative"}
 }}
],
"config": {
 "font": "DejaVu Sans",
 "view": {"stroke": "#000000", "strokeWidth": 1},
 "axis": {"labelFontSize": 16.7, "titleFontSize": 17, "titleFontWeight": "normal", "labelColor": "#000000", "titleColor": "#000000", "tickColor": "#000000", "tickSize": 5, "labelPadding": 3, "domain": false, "gridColor": "#c8c8c8", "gridWidth": 1, "labelFlush": false, "labelOverlap": false},
 "axisX": {"titlePadding": 4},
 "axisY": {"titlePadding": 6},
 "title": {"fontSize": 17, "fontWeight": "normal", "offset": 0, "color": "#000000"},
 "legend": {"orient": "none", "legendX": 83, "legendY": 848, "direction": "vertical", "columns": 3, "symbolType": "M-2.06,0L2.06,0", "symbolSize": 289, "symbolStrokeWidth": 2, "symbolOffset": 9, "labelFontSize": 16.7, "labelColor": "#000000", "labelOffset": 24, "columnPadding": 33, "rowPadding": 7, "padding": 7, "strokeColor": "#cccccc", "fillColor": "#ffffff", "cornerRadius": 4, "labelLimit": 0}
}
}
